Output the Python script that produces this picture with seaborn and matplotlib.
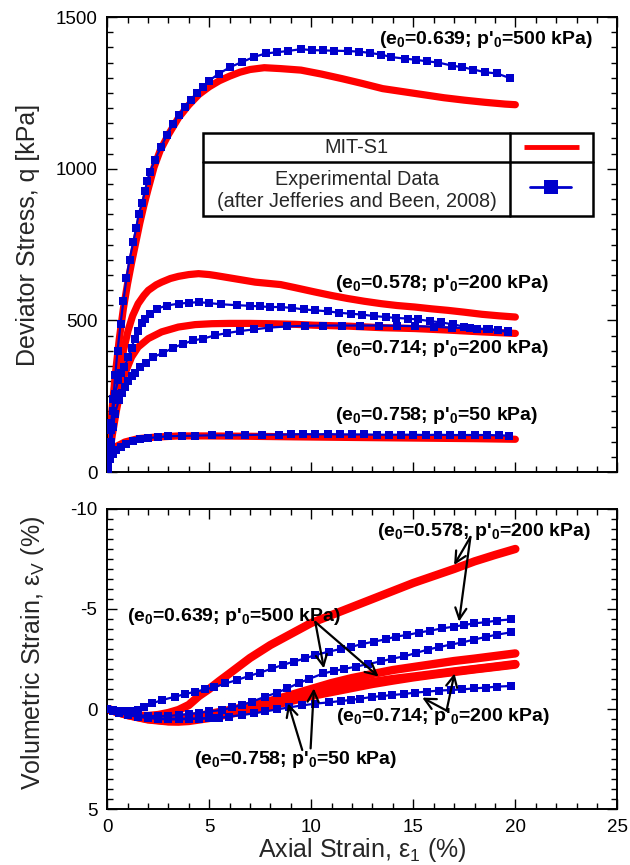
import numpy as np
import pandas as pd
import matplotlib
matplotlib.use('Agg')
import matplotlib.pyplot as plt
import seaborn as sns
from matplotlib.patches import Rectangle
from matplotlib.ticker import MultipleLocator

sns.set_style('ticks')
plt.rcParams['font.family'] = ['Liberation Sans', 'DejaVu Sans']
plt.rcParams['mathtext.fontset'] = 'custom'
plt.rcParams['mathtext.rm'] = 'Liberation Sans'
plt.rcParams['mathtext.bf'] = 'Liberation Sans:bold'
plt.rcParams['mathtext.it'] = 'Liberation Sans:italic'
plt.rcParams['axes.unicode_minus'] = False

# ---------------- data: deviator stress q [kPa] vs axial strain [%] ----------------
# MIT-S1 model
m639_e = [0, 0.1, 0.2, 0.4, 0.6, 0.8, 1.0, 1.2, 1.4, 1.6, 1.8, 2.0, 2.3, 2.6, 3.0, 3.5, 4.0, 4.5, 5.0,
          5.5, 6.0, 6.5, 7.0, 7.7, 8.5, 9.5, 10.5, 11.5, 12.5, 13.5, 14.5, 15.5, 16.5, 17.5, 18.5, 19.5, 20]
m639_q = [0, 90, 175, 320, 440, 540, 620, 690, 755, 820, 878, 930, 1005, 1060, 1112, 1168, 1210, 1245, 1270,
          1290, 1305, 1318, 1327, 1333, 1330, 1325, 1312, 1297, 1281, 1264, 1254, 1244, 1234, 1226, 1219, 1213, 1211]
m578_e = [0, 0.1, 0.25, 0.45, 0.62, 0.8, 1.03, 1.25, 1.52, 1.8, 2.02, 2.4, 2.67, 3.1, 3.49, 4.0, 4.48, 5.0, 5.3,
          6.28, 7.26, 8.5, 9.2, 10.15, 11.0, 11.79, 12.6, 13.43, 14.2, 15.07, 15.9, 16.7, 17.5, 18.36, 19.2, 20]
m578_q = [0, 60, 150, 250, 324, 400, 467, 515, 555, 582, 599, 617, 626, 638, 645, 651, 654, 651, 648,
          637, 626, 618, 608, 594, 582, 572, 563, 555, 549, 544, 538, 533, 527, 520, 515, 511]
m714_e = [0, 0.1, 0.25, 0.45, 0.65, 0.87, 1.2, 1.52, 2.02, 2.67, 3.49, 4.31, 5.13, 6.0, 7.0, 8.0, 9.2, 10.15,
          11.8, 13.43, 15.07, 16.7, 18.36, 20]
m714_q = [0, 50, 120, 200, 270, 324, 379, 412, 440, 462, 478, 486, 489, 490, 490, 489, 487, 484,
          481, 476, 473, 468, 462, 457]
m758_e = [0, 0.03, 0.08, 0.2, 0.38, 0.87, 1.52, 2.34, 3.5, 4.8, 6.77, 9.2, 12, 15, 18, 20]
m758_q = [0, 40, 60, 70, 82, 99, 110, 115, 119, 119, 118, 116, 114, 112, 110, 108]

# Experimental data (after Jefferies and Been, 2008)
x639_e = [0.02, 0.1, 0.2, 0.3, 0.4, 0.51, 0.66, 0.8, 0.95, 1.1, 1.28, 1.43, 1.54, 1.72, 1.85, 1.97, 2.1, 2.35,
          2.64, 2.92, 3.23, 3.5, 3.82, 4.10, 4.4, 4.72, 4.97, 5.47, 6.03, 6.62, 7.18, 7.77, 8.33, 8.84, 9.49,
          10.03, 10.56, 11.13, 11.79, 12.32, 12.86, 13.43, 13.93, 14.58, 15.12, 15.68, 16.23, 16.88, 17.37,
          17.95, 18.52, 19.10, 19.72]
x639_q = [20, 80, 160, 240, 320, 400, 489, 565, 640, 700, 758, 805, 850, 887, 925, 960, 990, 1030,
          1071, 1110, 1148, 1176, 1203, 1227, 1248, 1271, 1289, 1313, 1335, 1352, 1368, 1380, 1384, 1388, 1394,
          1391, 1390, 1389, 1388, 1386, 1382, 1376, 1368, 1363, 1359, 1354, 1350, 1340, 1335,
          1327, 1318, 1314, 1299]
x578_e = [0.02, 0.1, 0.2, 0.3, 0.38, 0.54, 0.7, 0.84, 1.03, 1.2, 1.35, 1.52, 1.7, 1.85, 2.1, 2.43, 2.92, 3.5,
          4.0, 4.5, 5.0, 5.6, 6.36, 7.0, 7.5, 8.0, 8.5, 9.08, 9.65, 10.2, 10.8, 11.36, 11.93, 12.5, 13.1,
          13.66, 14.15, 14.73, 15.22, 15.8, 16.38, 16.95, 17.5, 18.1, 18.6, 19.16, 19.65]
x578_q = [15, 70, 140, 200, 258, 302, 325, 345, 379, 410, 440, 465, 490, 505, 522, 538, 549, 555,
          558, 560, 557, 553, 550, 548, 546, 544, 544, 541, 536, 533, 530, 525, 522, 519, 514,
          511, 508, 506, 503, 498, 493, 487, 479, 473, 470, 467, 461]
x714_e = [0.02, 0.1, 0.2, 0.3, 0.38, 0.57, 0.72, 0.87, 1.03, 1.2, 1.36, 1.6, 1.89, 2.26, 2.75, 3.25, 3.74,
          4.23, 4.72, 5.3, 5.87, 6.52, 7.18, 7.92, 8.82, 9.7, 10.6, 11.5, 12.4, 13.3, 14.2, 15.1, 16.0,
          16.9, 17.8, 18.7, 19.65]
x714_q = [10, 50, 100, 150, 192, 236, 262, 280, 300, 315, 328, 345, 360, 379, 393, 410, 423,
          434, 440, 451, 458, 465, 470, 476, 480, 482, 483, 483, 483, 483, 482, 481, 479,
          476, 474, 471, 464]
x758_e = [0.0, 0.05, 0.13, 0.3, 0.46, 0.7, 0.95, 1.28, 1.6, 2.0, 2.5, 3.0, 3.66, 4.31, 5.13, 5.95, 6.77, 7.6,
          8.4, 9.0, 9.6, 10.2, 10.8, 11.4, 12.0, 12.6, 13.2, 13.8, 14.4, 15.0, 15.6, 16.2, 16.8, 17.4,
          18.0, 18.6, 19.2, 19.7]
x758_q = [5, 30, 44, 60, 71, 82, 93, 102, 108, 112, 115, 118, 119, 120, 121, 121, 122, 123,
          123, 124, 125, 124, 125, 124, 124, 124, 123, 123, 123, 123, 122, 123, 122, 122,
          122, 122, 121, 120]

# ---------------- data: volumetric strain [%] vs axial strain [%] ----------------
vm578_e = [0, 0.5, 1, 1.5, 2, 2.5, 3, 3.5, 4, 4.5, 5, 5.5, 6, 7, 8, 9, 10, 11, 12, 13, 14, 15, 16, 17, 18, 19, 20]
vm578_v = [0, 0.12, 0.25, 0.33, 0.35, 0.3, 0.2, 0.05, -0.2, -0.65, -1.0, -1.4, -1.78, -2.55, -3.2, -3.75,
           -4.3, -4.7, -5.1, -5.5, -5.9, -6.3, -6.65, -7.0, -7.38, -7.7, -8.0]
vm639_e = [0, 1, 2, 3, 3.5, 4, 5, 6, 7, 8, 9, 10, 11, 12, 13, 14, 15, 16, 17, 18, 19, 20]
vm639_v = [0, 0.3, 0.5, 0.6, 0.6, 0.55, 0.35, 0.1, -0.15, -0.4, -0.7, -1.0, -1.3, -1.55, -1.75, -1.95,
           -2.1, -2.25, -2.4, -2.52, -2.65, -2.78]
vm714_e = [0, 1, 2, 3, 3.5, 4, 5, 6, 7, 8, 9, 10, 11, 12, 13, 14, 15, 16, 17, 18, 19, 20]
vm714_v = [0, 0.3, 0.52, 0.62, 0.63, 0.6, 0.45, 0.25, 0.05, -0.15, -0.4, -0.65, -0.85, -1.05, -1.25, -1.42,
           -1.58, -1.72, -1.85, -1.98, -2.1, -2.22]
vm758_e = [0, 1, 2, 3, 4, 5, 6, 7, 8, 9, 10, 11, 12, 13, 14, 15, 16, 17, 18, 19, 20]
vm758_v = [0, 0.25, 0.45, 0.5, 0.42, 0.25, 0.05, -0.15, -0.38, -0.6, -0.85, -1.05, -1.2, -1.35, -1.5,
           -1.62, -1.75, -1.88, -2.0, -2.12, -2.25]

vx578_e = [0, 0.3, 0.6, 0.9, 1.2, 1.5, 1.8, 2.2, 2.7, 3.35, 3.84, 4.33, 4.82, 5.23, 5.8, 6.37, 6.94, 7.5, 8.1,
           8.6, 9.15, 9.7, 10.2, 10.87, 11.44, 11.93, 12.5, 13.07, 13.64, 14.13, 14.7, 15.27, 15.84, 16.42,
           16.99, 17.48, 17.97, 18.54, 19.11, 19.77]
vx578_v = [0, 0.05, 0.1, 0.12, 0.1, 0.05, -0.1, -0.28, -0.45, -0.62, -0.75, -0.87, -0.98, -1.08, -1.28,
           -1.45, -1.65, -1.82, -2.03, -2.2, -2.37, -2.53, -2.7, -2.87, -3.0, -3.1, -3.25, -3.37, -3.48,
           -3.62, -3.7, -3.82, -3.92, -4.03, -4.12, -4.2, -4.28, -4.34, -4.42, -4.48]
vx639_e = [0, 0.3, 0.6, 1.0, 1.5, 2.0, 2.5, 3.0, 3.5, 4.0, 4.5, 5.0, 5.64, 6.13, 6.62, 7.1, 7.76, 8.33, 8.82,
           9.4, 9.88, 10.6, 11.1, 11.6, 12.2, 12.8, 13.4, 13.98, 14.55, 15.13, 15.7, 16.27, 16.84, 17.41,
           17.97, 18.54, 19.11, 19.77]
vx639_v = [0, 0.08, 0.15, 0.25, 0.3, 0.35, 0.35, 0.35, 0.3, 0.25, 0.2, 0.12, 0.05, -0.08, -0.2, -0.37,
           -0.62, -0.82, -1.03, -1.3, -1.5, -1.78, -1.9, -2.0, -2.12, -2.25, -2.38, -2.52, -2.63, -2.8,
           -2.97, -3.1, -3.22, -3.33, -3.47, -3.6, -3.72, -3.83]
vx714_e = [0, 0.3, 0.6, 1.0, 1.5, 2.0, 2.5, 3.0, 3.5, 4.0, 4.5, 5.0, 5.47, 5.96, 6.62, 7.19, 7.76, 8.33, 8.9,
           9.56, 10.2, 10.85, 11.44, 11.93, 12.4, 12.98, 13.47, 13.96, 14.53, 15.1, 15.68, 16.25, 16.83,
           17.4, 17.97, 18.54, 19.11, 19.77]
vx714_v = [0, 0.1, 0.2, 0.3, 0.38, 0.43, 0.46, 0.48, 0.48, 0.48, 0.48, 0.47, 0.45, 0.38, 0.3, 0.22, 0.12,
           0.02, -0.08, -0.18, -0.27, -0.33, -0.4, -0.45, -0.52, -0.6, -0.65, -0.7, -0.75, -0.82, -0.87,
           -0.92, -0.95, -0.98, -1.03, -1.07, -1.12, -1.15]
vx758_e = [0, 0.3, 0.6, 1.0, 1.5, 2.0, 2.5, 3.0, 3.5, 4.0, 4.5, 5.0, 5.2]
vx758_v = [0, 0.1, 0.2, 0.3, 0.38, 0.45, 0.5, 0.52, 0.52, 0.5, 0.48, 0.45, 0.43]

# annotation labels and arrow geometry (axial strain, volumetric strain)
lab639 = r"(e$_\mathbf{0}$=0.639; p'$_\mathbf{0}$=500 kPa)"
lab578 = r"(e$_\mathbf{0}$=0.578; p'$_\mathbf{0}$=200 kPa)"
lab714 = r"(e$_\mathbf{0}$=0.714; p'$_\mathbf{0}$=200 kPa)"
lab758 = r"(e$_\mathbf{0}$=0.758; p'$_\mathbf{0}$=50 kPa)"
arrows = [((17.8, -8.6), (17.0, -7.2)), ((17.8, -8.6), (17.24, -4.37)),
          ((10.2, -4.35), (10.62, -2.03)), ((10.2, -4.35), (13.3, -1.62)),
          ((16.63, 0.08), (15.44, -0.57)), ((16.63, 0.08), (17.02, -1.78)),
          ((9.56, 2.05), (8.87, -0.28)), ((9.97, 1.97), (10.13, -1.03))]

RED = '#ff0000'
BLUE = '#0000cc'

fig = plt.figure(figsize=(6.3, 8.65), dpi=100)
ax1 = fig.add_axes([0.170, 0.4543, 0.810, 0.5260])
ax2 = fig.add_axes([0.170, 0.0647, 0.810, 0.3469])


def model(ax, x, y, lw=5.2):
    sns.lineplot(x=x, y=y, ax=ax, color=RED, lw=lw, sort=False, estimator=None, zorder=2)


def exper(ax, x, y, ms=5.5):
    sns.lineplot(x=x, y=y, ax=ax, color=BLUE, lw=1.6, marker='s', markersize=ms,
                 markeredgewidth=0, sort=False, estimator=None, zorder=3)


for e, q in [(m639_e, m639_q), (m578_e, m578_q), (m714_e, m714_q), (m758_e, m758_q)]:
    model(ax1, e, q)
for e, q in [(x639_e, x639_q), (x578_e, x578_q), (x714_e, x714_q), (x758_e, x758_q)]:
    exper(ax1, e, q)
for e, v in [(vm578_e, vm578_v), (vm639_e, vm639_v), (vm714_e, vm714_v), (vm758_e, vm758_v)]:
    model(ax2, e, v, lw=6)
for e, v in [(vx578_e, vx578_v), (vx639_e, vx639_v), (vx714_e, vx714_v), (vx758_e, vx758_v)]:
    exper(ax2, e, v, ms=6)

for ax in (ax1, ax2):
    ax.set_xlim(0, 25)
    ax.xaxis.set_major_locator(MultipleLocator(5))
    ax.xaxis.set_minor_locator(MultipleLocator(1))
    ax.tick_params(which='both', direction='in', top=True, right=True, width=1.0,
                   labelsize=13.5, pad=7, colors='black')
    ax.tick_params(which='major', length=7)
    ax.tick_params(which='minor', length=4)
    for s in ax.spines.values():
        s.set_linewidth(1.4)
        s.set_color('black')

ax1.set_ylim(0, 1500)
ax1.yaxis.set_major_locator(MultipleLocator(500))
ax1.yaxis.set_minor_locator(MultipleLocator(50))
ax1.tick_params(labelbottom=False)
ax1.set_xlabel('')
ax1.set_ylabel('Deviator Stress, q [kPa]', fontsize=18)
ax1.yaxis.set_label_coords(-0.131, 0.52)

ax2.set_ylim(5, -10)
ax2.yaxis.set_major_locator(MultipleLocator(5))
ax2.yaxis.set_minor_locator(MultipleLocator(0.5))
ax2.set_ylabel(r'Volumetric Strain, ε$_\mathrm{V}$ (%)', fontsize=18)
ax2.yaxis.set_label_coords(-0.117, 0.52)
ax2.set_xlabel(r'Axial Strain, ε$_\mathrm{1}$ (%)', fontsize=18, labelpad=0)

# annotations, top panel
tk = dict(fontsize=14, fontweight='bold', va='baseline', ha='left', color='black')
ax1.text(13.33, 1410, lab639, **tk)
ax1.text(11.17, 606, lab578, **tk)
ax1.text(11.17, 392, lab714, **tk)
ax1.text(11.17, 173, lab758, **tk)

# annotations, bottom panel
ax2.text(13.2, -8.65, lab578, **tk)
ax2.text(0.98, -4.4, lab639, **tk)
ax2.text(11.2, 0.6, lab714, **tk)
ax2.text(4.28, 2.75, lab758, **tk)
for tail, tip in arrows:
    ax2.annotate('', xy=tip, xytext=tail,
                 arrowprops=dict(arrowstyle='->', lw=1.6, color='black', mutation_scale=20,
                                 shrinkA=0, shrinkB=0))

# legend table
L, R, D = 0.188, 0.953, 0.790
B, T, H = 0.5626, 0.745, 0.681
ax1.add_patch(Rectangle((L, B), R - L, T - B, transform=ax1.transAxes, facecolor='white',
                        edgecolor='black', lw=1.8, zorder=6))
ax1.plot([D, D], [B, T], transform=ax1.transAxes, color='black', lw=1.8, zorder=7)
ax1.plot([L, R], [H, H], transform=ax1.transAxes, color='black', lw=1.8, zorder=7)
ax1.text((L + D) / 2, (H + T) / 2, 'MIT-S1', transform=ax1.transAxes, fontsize=14.3,
         ha='center', va='center', zorder=8)
ax1.text((L + D) / 2, (B + H) / 2 - 0.004, 'Experimental Data\n(after Jefferies and Been, 2008)',
         transform=ax1.transAxes, fontsize=14.3, ha='center', va='center', linespacing=1.2, zorder=8)
ax1.plot([0.816, 0.925], [0.714, 0.714], transform=ax1.transAxes, color=RED, lw=3.5,
         solid_capstyle='butt', zorder=8)
ax1.plot([0.828, 0.910], [0.626, 0.626], transform=ax1.transAxes, color=BLUE, lw=2, zorder=8)
ax1.plot([0.869], [0.626], transform=ax1.transAxes, color=BLUE, marker='s', markersize=10,
         markeredgewidth=0, zorder=9)

fig.savefig('out.png', dpi=100)
